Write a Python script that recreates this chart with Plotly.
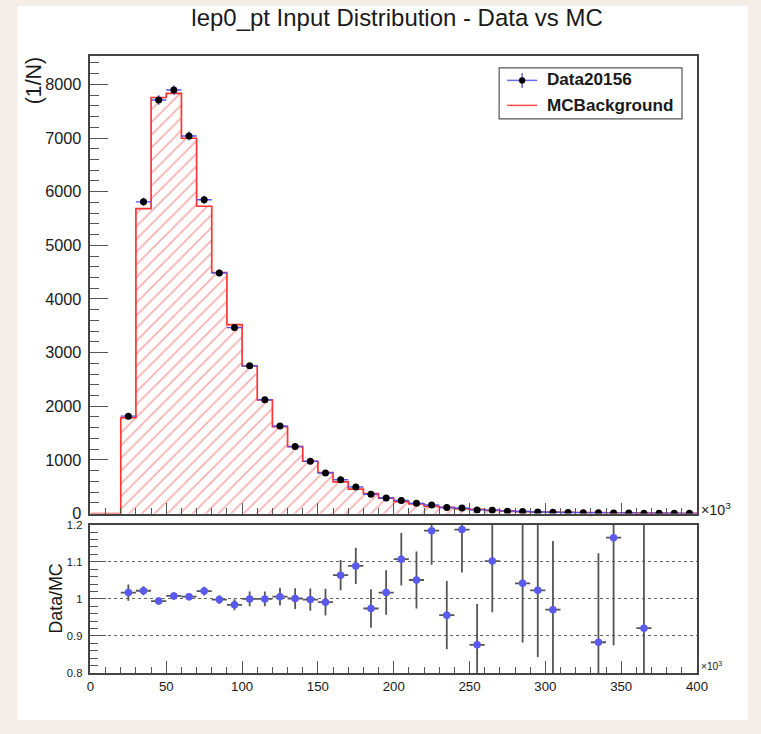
import plotly.graph_objects as go

# ---- binning (lepton pT, in units of 10^3 MeV) ----
bin_lo = [20, 30, 40, 50, 60, 70, 80, 90, 100, 110, 120, 130, 140, 150, 160, 170, 180, 190,
          200, 210, 220, 230, 240, 250, 260, 270, 280, 290, 300, 310, 320, 330, 340, 350,
          360, 370, 380, 390]
bin_width = 10
axis_min, axis_max = 0, 400

# ---- normalised yields per bin ----
data_counts = [1816, 5810, 7708, 7894, 7038, 5848, 4484, 3466, 2753, 2120, 1630, 1250, 973, 757,
               630, 495, 360, 292, 245, 190, 160, 112, 102, 68, 64, 45, 38, 30, 25, 20, 17, 14,
               12, 10, 8, 6, 5, 4]
mc_counts = [1786, 5685, 7755, 7831, 6996, 5728, 4493, 3522, 2753, 2120, 1620, 1249, 975, 764,
             592, 455, 370, 287, 221, 181, 135, 117, 86, 78, 58, 50, 36.5, 29.3, 25.7, 24, 20,
             15.9, 10.3, 12, 8.7, 7, 6, 5]

# ---- Data/MC ratio and its uncertainty (None: outside the displayed range) ----
ratio = [1.017, 1.022, 0.994, 1.008, 1.006, 1.021, 0.998, 0.984, 1.000, 1.000, 1.006, 1.001,
         0.998, 0.991, 1.064, 1.089, 0.974, 1.017, 1.107, 1.051, 1.184, 0.956, 1.187, 0.876,
         1.102, None, 1.042, 1.023, 0.971, None, None, 0.883, 1.165, None, 0.921, None, None, None]
ratio_err = [0.022, 0.012, 0.010, 0.010, 0.010, 0.012, 0.012, 0.015, 0.020, 0.020, 0.024, 0.028,
             0.030, 0.036, 0.041, 0.049, 0.052, 0.060, 0.071, 0.077, 0.092, 0.092, 0.116, 0.110,
             0.138, None, 0.160, 0.180, 0.185, None, None, 0.240, 0.290, None, 0.350, None, None, None]

title_text = "lep0_pt Input Distribution - Data vs MC"
y_title_top = "(1/N)"
y_title_bottom = "Data/MC"
data_label = "Data20156"
mc_label = "MCBackground"
y_ticks_bottom = [0.8, 0.9, 1.0, 1.1, 1.2]
y_ticktext_bottom = ["0.8", "0.9", "1", "1.1", "1.2"]

W, H = 761, 734
FONT = "Liberation Sans, Arial, Helvetica, sans-serif"

centers = [lo + bin_width / 2 for lo in bin_lo]
half_w = [bin_width / 2] * len(bin_lo)
data_err = [v ** 0.5 for v in data_counts]

# step outline of the MC histogram over the full axis range
step_x = [axis_min] + bin_lo + [bin_lo[-1] + bin_width]
step_y = [0] + mc_counts + [mc_counts[-1]]

rx = [c for c, r in zip(centers, ratio) if r is not None]
ry = [r for r in ratio if r is not None]
rerr = [e for r, e in zip(ratio, ratio_err) if r is not None]

# page-pixel -> paper-fraction helpers (layout positions given in page pixels)
SC, OX, OY = 0.981, 3.5, 5.0


def px_x(p):
    return ((p - OX) / SC) / W


def px_y(p):
    return 1 - ((p - OY) / SC) / H


def fs(s):
    return s / SC


fig = go.Figure()

# MC: hatched fill
fig.add_trace(go.Bar(
    x=centers, y=mc_counts, width=bin_width,
    marker=dict(color="white", line=dict(width=0),
                pattern=dict(shape="/", fgcolor="#ec6464", bgcolor="white", size=9, solidity=0.2)),
    xaxis="x", yaxis="y", showlegend=False, hoverinfo="skip",
))
# MC: outline
fig.add_trace(go.Scatter(
    x=step_x, y=step_y, mode="lines", line=dict(color="#ff3434", width=1.7, shape="hv"),
    xaxis="x", yaxis="y", showlegend=False, hoverinfo="skip",
))
# Data points
fig.add_trace(go.Scatter(
    x=centers, y=data_counts, mode="markers",
    marker=dict(color="black", size=7, symbol="circle"),
    error_x=dict(type="data", array=half_w, color="#5050f0", thickness=1.4, width=0),
    error_y=dict(type="data", array=data_err, color="#5050f0", thickness=1.4, width=0),
    xaxis="x", yaxis="y", showlegend=False,
))
# Ratio points
fig.add_trace(go.Scatter(
    x=rx, y=ry, mode="markers",
    marker=dict(color="#5a5af2", size=7.5, symbol="circle"),
    error_x=dict(type="data", array=[bin_width / 2] * len(rx), color="#555555", thickness=1.8, width=0),
    error_y=dict(type="data", array=rerr, color="#555555", thickness=1.8, width=0),
    xaxis="x2", yaxis="y2", showlegend=False,
))

x_dom = [px_x(90), px_x(697)]
axis_common = dict(showline=True, linecolor="#444444", linewidth=1.5, mirror=True,
                   zeroline=False, ticks="inside", tickcolor="#555555", tickwidth=1.3)

fig.update_layout(
    width=W, height=H,
    margin=dict(l=0, r=0, t=0, b=0),
    paper_bgcolor="#f4ede8",
    plot_bgcolor="white",
    font=dict(family=FONT, color="#1a1a1a"),
    bargap=0,
    showlegend=False,
    title=dict(text=title_text, x=px_x(393), xanchor="center", y=px_y(22), yanchor="middle",
               font=dict(size=fs(23.5), family=FONT, color="#1a1a1a")),
    xaxis=dict(domain=x_dom, range=[axis_min, axis_max], anchor="y", showticklabels=False,
               dtick=50, tick0=0, ticklen=11, showgrid=False,
               minor=dict(ticks="inside", dtick=10, ticklen=6, tickcolor="#555555"),
               **axis_common),
    yaxis=dict(domain=[px_y(513.3), px_y(55)], range=[0, 8530], anchor="x",
               dtick=1000, tick0=0, ticklen=18, showgrid=False,
               tickfont=dict(size=fs(16), color="#1a1a1a"), ticklabelstandoff=4,
               minor=dict(ticks="inside", dtick=200, ticklen=9, tickcolor="#555555"),
               **axis_common),
    xaxis2=dict(domain=x_dom, range=[axis_min, axis_max], anchor="y2",
                dtick=50, tick0=0, ticklen=12, showgrid=False,
                tickfont=dict(size=fs(13), color="#1a1a1a"),
                minor=dict(ticks="inside", dtick=10, ticklen=6, tickcolor="#555555"),
                **axis_common),
    yaxis2=dict(domain=[px_y(673), px_y(524.5)], range=[0.8, 1.2], anchor="x2",
                tickvals=y_ticks_bottom, ticktext=y_ticktext_bottom, ticklen=16,
                showgrid=True, gridcolor="#666666", griddash="dot", gridwidth=1,
                tickfont=dict(size=fs(11), color="#1a1a1a"), ticklabelstandoff=4,
                minor=dict(ticks="inside", dtick=0.02, ticklen=8, tickcolor="#555555"),
                **axis_common),
)

shapes = [
    # white canvas
    dict(type="rect", xref="paper", yref="paper", x0=px_x(17), x1=px_x(748), y0=px_y(720), y1=px_y(5),
         fillcolor="white", line=dict(width=0), layer="below"),
    # legend box
    dict(type="rect", xref="paper", yref="paper", x0=px_x(499), x1=px_x(682), y0=px_y(118), y1=px_y(67),
         fillcolor="white", line=dict(color="#555555", width=1.2)),
    # legend: data symbol
    dict(type="line", xref="paper", yref="paper", x0=px_x(507), x1=px_x(537), y0=px_y(79.5), y1=px_y(79.5),
         line=dict(color="#6a6af0", width=1.5)),
    dict(type="line", xref="paper", yref="paper", x0=px_x(522), x1=px_x(522), y0=px_y(72), y1=px_y(87),
         line=dict(color="#6a6af0", width=1.5)),
    dict(type="circle", xref="paper", yref="paper", x0=px_x(519), x1=px_x(525), y0=px_y(82.5), y1=px_y(76.5),
         fillcolor="black", line=dict(color="black", width=0.5)),
    # legend: MC symbol
    dict(type="line", xref="paper", yref="paper", x0=px_x(507), x1=px_x(537), y0=px_y(104.5), y1=px_y(104.5),
         line=dict(color="#ff4a4a", width=1.5)),
]
fig.update_layout(shapes=shapes)

annotations = [
    dict(text=f"<b>{data_label}</b>", x=px_x(545), y=px_y(79), xref="paper", yref="paper",
         xanchor="left", yanchor="middle", showarrow=False, font=dict(size=fs(16.8), family=FONT, color="#1a1a1a")),
    dict(text=f"<b>{mc_label}</b>", x=px_x(545), y=px_y(105), xref="paper", yref="paper",
         xanchor="left", yanchor="middle", showarrow=False, font=dict(size=fs(16.8), family=FONT, color="#1a1a1a")),
    dict(text=y_title_top, x=px_x(33), y=px_y(79), xref="paper", yref="paper", textangle=-90,
         xanchor="center", yanchor="middle", showarrow=False, font=dict(size=fs(21), family=FONT, color="#1a1a1a")),
    dict(text=y_title_bottom, x=px_x(56), y=px_y(598), xref="paper", yref="paper", textangle=-90,
         xanchor="center", yanchor="middle", showarrow=False, font=dict(size=fs(17.5), family=FONT, color="#1a1a1a")),
    dict(text="×10<sup>3</sup>", x=px_x(699), y=px_y(509), xref="paper", yref="paper",
         xanchor="left", yanchor="middle", showarrow=False, font=dict(size=fs(14), family=FONT, color="#1a1a1a")),
    dict(text="×10<sup>3</sup>", x=px_x(699), y=px_y(666), xref="paper", yref="paper",
         xanchor="left", yanchor="middle", showarrow=False, font=dict(size=fs(10), family=FONT, color="#1a1a1a")),
]
fig.update_layout(annotations=annotations)

fig.write_html("out.html")
